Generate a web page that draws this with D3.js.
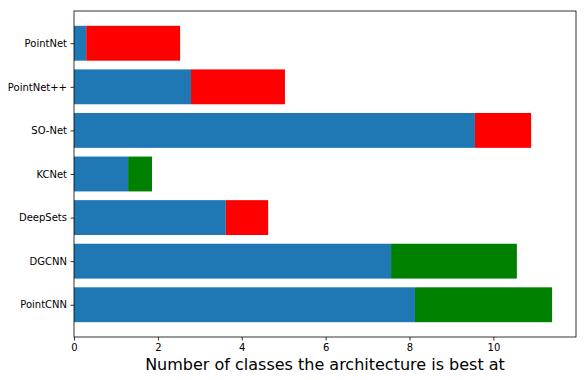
<!DOCTYPE html>
<html>
<head>
<meta charset="utf-8">
<script src="https://cdn.jsdelivr.net/npm/d3@7"></script>
<style>
  body { margin: 0; background: #fff; }
  text { font-family: "DejaVu Sans", sans-serif; fill: #000; }
</style>
</head>
<body>
<div id="chart"></div>
<script>
// architectures, bottom to top
var architectures = ['PointCNN', 'DGCNN', 'DeepSets', 'KCNet', 'SO-Net', 'PointNet++', 'PointNet'];
// first (blue) segment
var baseValues = [8.13, 7.56, 3.62, 1.29, 9.56, 2.79, 0.29];
// second segment and its colour
var extraValues = [3.27, 3.0, 1.01, 0.57, 1.34, 2.24, 2.24];
var extraColors = ['green', 'green', 'red', 'green', 'red', 'red', 'red'];
var xTicks = [0, 2, 4, 6, 8, 10];

var margin = {top: 11, right: 10, bottom: 43, left: 74};
var width = 586 - margin.left - margin.right;
var height = 380 - margin.top - margin.bottom;

var svg = d3.select('#chart')
  .append('svg')
    .attr('width', 586)
    .attr('height', 380)
  .append('g')
    .attr('transform', 'translate(' + margin.left + ',' + margin.top + ')');

var totals = architectures.map(function(d, i) { return baseValues[i] + extraValues[i]; });
var xMax = d3.max(totals) * 1.05;

var x_scale = d3.scaleLinear()
  .domain([0, xMax])
  .range([0, width]);

var y_scale = d3.scaleLinear()
  .domain([-0.4 - 0.34, architectures.length - 0.6 + 0.34])
  .range([height, 0]);

var barH = y_scale(0) - y_scale(0.8);

// blue bars
svg.selectAll('.base')
  .data(architectures)
  .enter()
  .append('rect')
    .attr('x', x_scale(0))
    .attr('y', function(d, i) { return y_scale(i + 0.4); })
    .attr('width', function(d, i) { return x_scale(baseValues[i]) - x_scale(0); })
    .attr('height', barH)
    .style('fill', '#1f77b4');

// red / green bars
svg.selectAll('.extra')
  .data(architectures)
  .enter()
  .append('rect')
    .attr('x', function(d, i) { return x_scale(baseValues[i]); })
    .attr('y', function(d, i) { return y_scale(i + 0.4); })
    .attr('width', function(d, i) { return x_scale(baseValues[i] + extraValues[i]) - x_scale(baseValues[i]); })
    .attr('height', barH)
    .style('fill', function(d, i) { return extraColors[i]; });

// X axis
var x_axis = d3.axisBottom(x_scale)
  .tickValues(xTicks)
  .tickSize(3.5)
  .tickPadding(3.5)
  .tickFormat(d3.format('d'));
var gx = svg.append('g')
  .attr('transform', 'translate(0,' + height + ')')
  .call(x_axis);
gx.select('.domain').remove();

// Y axis
var y_axis = d3.axisLeft(y_scale)
  .tickValues(d3.range(architectures.length))
  .tickSize(3.5)
  .tickPadding(3.5)
  .tickFormat(function(i) { return architectures[i]; });
var gy = svg.append('g')
  .call(y_axis);
gy.select('.domain').remove();

svg.selectAll('.tick text')
  .style('font-size', '10px')
  .style('font-family', '"DejaVu Sans", sans-serif')
  .attr('fill', '#000');
svg.selectAll('.tick line').attr('stroke', '#000').attr('stroke-width', 0.8);

// frame
svg.append('rect')
  .attr('x', 0)
  .attr('y', 0)
  .attr('width', width)
  .attr('height', height)
  .style('fill', 'none')
  .style('stroke', '#000')
  .style('stroke-width', 0.8);

// x label
svg.append('text')
  .attr('x', width / 2)
  .attr('y', height + 33)
  .attr('text-anchor', 'middle')
  .style('font-size', '16px')
  .text('Number of classes the architecture is best at');
</script>
</body>
</html>
